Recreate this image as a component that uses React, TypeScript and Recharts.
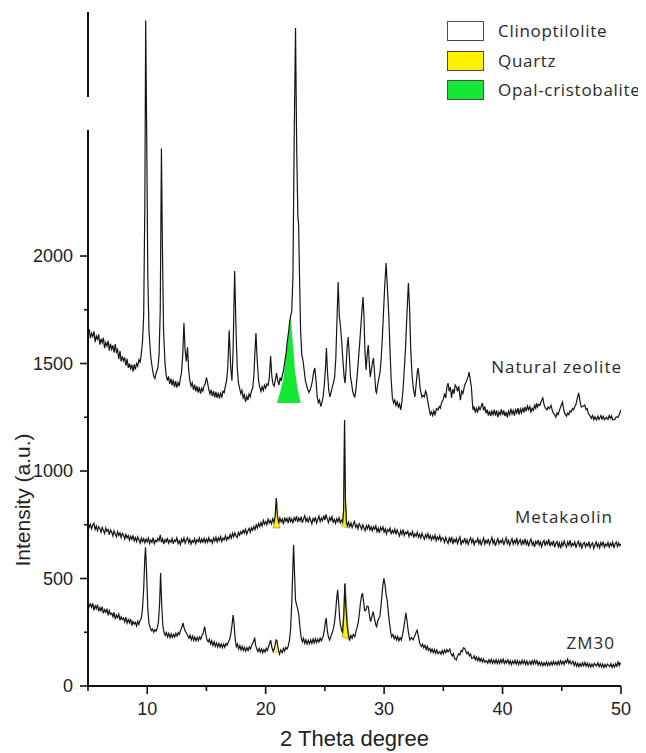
import React from 'react';
import { ComposedChart, Line, Area, XAxis, YAxis, ReferenceLine, ReferenceDot } from 'recharts';

// ---- axes ----
const X_DOMAIN: [number, number] = [5, 50];
const X_TICKS = [5, 10, 15, 20, 25, 30, 35, 40, 45, 50];
const X_LABELED = [10, 20, 30, 40, 50];
const Y_DOMAIN: [number, number] = [0, 3135];
const Y_TICKS = [0, 250, 500, 750, 1000, 1250, 1500, 1750, 2000];
const Y_LABELED = [0, 500, 1000, 1500, 2000];
const Y_BREAK = [2586, 2740];
const X_TITLE = '2 Theta degree';
const Y_TITLE = 'Intensity (a.u.)';

// ---- legend ----
const PHASES = ['Clinoptilolite', 'Quartz', 'Opal-cristobalite'];
const PHASE_COLORS = ['#ffffff', '#fff200', '#14e834'];

// ---- sample names ----
const SAMPLES = ['Natural zeolite', 'Metakaolin', 'ZM30'];

// ---- Natural zeolite [2theta, intensity] ----
const NATURAL_ZEOLITE: [number, number][] = [
  [5.0,1632],[5.1,1660],[5.2,1618],[5.3,1641],[5.4,1626],[5.5,1650],[5.6,1600],[5.7,1628],[5.8,1612],[5.9,1636],
  [6.0,1588],[6.1,1615],[6.2,1596],[6.3,1620],[6.4,1572],[6.5,1598],[6.6,1582],[6.7,1605],[6.8,1560],[6.9,1592],
  [7.0,1566],[7.1,1584],[7.2,1550],[7.3,1590],[7.4,1552],[7.5,1565],[7.6,1520],[7.7,1558],[7.8,1510],[7.9,1533],
  [8.0,1512],[8.1,1528],[8.2,1490],[8.3,1522],[8.4,1480],[8.5,1500],[8.6,1476],[8.7,1495],[8.8,1462],[8.9,1496],
  [9.0,1472],[9.1,1500],[9.2,1488],[9.3,1518],[9.4,1506],[9.5,1545],[9.6,1600],[9.7,1720],[9.8,2250],[9.87,3095],
  [9.95,2600],[10.05,1900],[10.15,1650],[10.3,1530],[10.45,1470],[10.55,1440],[10.65,1430],[10.75,1455],[10.9,1480],
  [11.0,1540],[11.1,1750],[11.2,2500],[11.28,2050],[11.38,1650],[11.5,1500],[11.6,1445],[11.7,1420],[11.8,1440],
  [11.9,1405],[12.0,1430],[12.1,1398],[12.2,1425],[12.3,1390],[12.4,1418],[12.5,1388],[12.6,1412],[12.7,1395],
  [12.8,1430],[12.9,1460],[13.0,1540],[13.1,1688],[13.2,1560],[13.3,1510],[13.4,1575],[13.5,1470],[13.6,1420],
  [13.7,1395],[13.8,1410],[13.9,1378],[14.0,1402],[14.1,1370],[14.2,1395],[14.3,1365],[14.4,1390],[14.5,1360],
  [14.6,1385],[14.7,1372],[14.8,1398],[14.9,1405],[15.0,1435],[15.1,1410],[15.2,1378],[15.3,1358],[15.4,1378],
  [15.5,1348],[15.6,1372],[15.7,1342],[15.8,1368],[15.9,1340],[16.0,1365],[16.1,1338],[16.2,1362],[16.3,1345],
  [16.4,1372],[16.5,1365],[16.6,1395],[16.7,1420],[16.8,1480],[16.92,1655],[17.05,1480],[17.15,1420],[17.25,1560],
  [17.38,1930],[17.5,1650],[17.6,1480],[17.7,1410],[17.8,1385],[17.9,1360],[18.0,1375],[18.1,1340],[18.2,1355],
  [18.3,1322],[18.4,1348],[18.5,1330],[18.6,1358],[18.7,1345],[18.8,1372],[18.9,1385],[19.0,1440],[19.1,1560],
  [19.18,1642],[19.28,1520],[19.4,1420],[19.5,1390],[19.6,1370],[19.7,1392],[19.8,1375],[19.9,1400],[20.0,1385],
  [20.1,1405],[20.2,1398],[20.3,1430],[20.42,1535],[20.52,1440],[20.62,1405],[20.72,1395],[20.82,1425],[20.92,1455],
  [21.02,1420],[21.12,1400],[21.22,1435],[21.32,1418],[21.42,1448],[21.52,1470],[21.62,1510],[21.72,1545],
  [21.82,1600],[21.92,1640],[22.02,1690],[22.12,1725],[22.2,1740],[22.3,1900],[22.42,2600],[22.52,3060],
  [22.62,2500],[22.72,2180],[22.78,2150],[22.86,1900],[22.95,1650],[23.05,1540],[23.15,1515],[23.25,1470],
  [23.35,1420],[23.45,1400],[23.55,1380],[23.65,1365],[23.75,1375],[23.85,1395],[23.95,1420],[24.05,1460],
  [24.15,1480],[24.25,1420],[24.35,1345],[24.45,1318],[24.55,1330],[24.65,1300],[24.75,1318],[24.85,1345],
  [24.95,1400],[25.05,1480],[25.13,1572],[25.22,1460],[25.32,1380],[25.42,1345],[25.52,1365],[25.62,1390],
  [25.72,1410],[25.82,1437],[25.92,1520],[26.02,1700],[26.12,1879],[26.22,1720],[26.32,1670],[26.42,1600],
  [26.52,1516],[26.62,1440],[26.7,1409],[26.78,1470],[26.88,1580],[26.97,1623],[27.06,1540],[27.16,1440],
  [27.25,1409],[27.35,1370],[27.45,1350],[27.53,1344],[27.62,1380],[27.72,1440],[27.82,1510],[27.92,1580],
  [28.02,1660],[28.12,1740],[28.22,1809],[28.3,1720],[28.38,1560],[28.48,1470],[28.57,1540],[28.66,1586],
  [28.75,1500],[28.83,1437],[28.92,1470],[29.0,1500],[29.1,1525],[29.2,1450],[29.3,1370],[29.36,1363],
  [29.45,1400],[29.55,1430],[29.65,1456],[29.75,1520],[29.85,1620],[29.95,1740],[30.05,1860],[30.17,1967],
  [30.28,1850],[30.4,1716],[30.5,1560],[30.6,1420],[30.7,1340],[30.8,1316],[30.9,1330],[31.0,1305],[31.1,1322],
  [31.2,1298],[31.3,1312],[31.4,1284],[31.5,1320],[31.6,1380],[31.7,1470],[31.8,1563],[31.92,1720],[32.05,1874],
  [32.15,1760],[32.25,1560],[32.37,1437],[32.48,1380],[32.6,1344],[32.7,1400],[32.8,1460],[32.87,1479],
  [32.95,1440],[33.05,1380],[33.2,1344],[33.3,1352],[33.4,1345],[33.5,1372],[33.57,1363],[33.7,1320],[33.8,1290],
  [33.9,1262],[34.0,1275],[34.1,1258],[34.2,1280],[34.3,1262],[34.42,1290],[34.55,1284],[34.65,1300],[34.75,1292],
  [34.85,1318],[34.98,1330],[35.1,1360],[35.2,1340],[35.3,1390],[35.4,1409],[35.5,1370],[35.6,1390],[35.69,1340],
  [35.8,1380],[35.9,1360],[36.0,1400],[36.1,1391],[36.2,1370],[36.3,1395],[36.44,1330],[36.55,1372],[36.65,1360],
  [36.8,1400],[36.9,1410],[37.0,1425],[37.1,1440],[37.18,1460],[37.28,1420],[37.37,1391],[37.45,1320],[37.51,1284],
  [37.6,1300],[37.7,1272],[37.8,1292],[37.9,1275],[38.0,1298],[38.1,1285],[38.2,1300],[38.3,1316],[38.4,1282],
  [38.5,1300],[38.6,1268],[38.7,1286],[38.8,1258],[38.9,1280],[39.0,1255],[39.1,1278],[39.2,1262],[39.3,1285],
  [39.4,1258],[39.5,1282],[39.6,1250],[39.7,1275],[39.8,1262],[39.9,1288],[40.0,1260],[40.1,1282],[40.2,1255],
  [40.3,1275],[40.4,1250],[40.5,1278],[40.6,1262],[40.7,1290],[40.8,1265],[40.9,1282],[41.0,1258],[41.1,1285],
  [41.2,1270],[41.3,1292],[41.4,1262],[41.5,1288],[41.6,1270],[41.7,1295],[41.8,1272],[41.9,1298],[42.0,1278],
  [42.1,1302],[42.2,1285],[42.3,1300],[42.4,1275],[42.5,1292],[42.6,1282],[42.7,1305],[42.8,1292],[42.86,1315],
  [42.95,1298],[43.05,1310],[43.15,1305],[43.25,1322],[43.4,1340],[43.5,1310],[43.6,1295],[43.76,1285],[43.85,1298],
  [43.95,1290],[44.1,1305],[44.2,1280],[44.3,1268],[44.4,1262],[44.5,1251],[44.6,1270],[44.7,1262],[44.8,1282],
  [44.9,1298],[45.06,1321],[45.15,1290],[45.25,1268],[45.4,1255],[45.5,1270],[45.6,1262],[45.7,1280],[45.8,1275],
  [45.9,1290],[46.0,1285],[46.1,1300],[46.2,1310],[46.3,1335],[46.43,1363],[46.55,1320],[46.65,1298],[46.78,1300],
  [46.94,1307],[47.05,1285],[47.15,1290],[47.25,1265],[47.36,1260],[47.5,1245],[47.6,1258],[47.7,1238],[47.8,1252],
  [47.93,1237],[48.05,1255],[48.15,1240],[48.3,1258],[48.4,1242],[48.5,1255],[48.6,1238],[48.77,1250],[48.9,1240],
  [49.0,1258],[49.1,1245],[49.2,1256],[49.3,1238],[49.47,1240],[49.6,1252],[49.75,1250],[49.85,1262],[50.0,1284],
];

// ---- Metakaolin ----
const METAKAOLIN: [number, number][] = [
  [5.0,760],[5.1,738],[5.2,752],[5.3,731],[5.4,749],[5.5,757],[5.6,728],[5.7,744],[5.8,722],[5.9,741],
  [6.0,733],[6.1,715],[6.2,738],[6.3,724],[6.4,710],[6.5,735],[6.6,719],[6.7,728],[6.8,703],[6.9,725],
  [7.0,716],[7.1,698],[7.2,722],[7.3,707],[7.4,694],[7.5,718],[7.6,700],[7.7,712],[7.8,690],[7.9,710],
  [8.0,702],[8.1,684],[8.2,705],[8.3,689],[8.4,700],[8.5,678],[8.6,696],[8.7,682],[8.8,701],[8.9,676],
  [9.0,690],[9.1,672],[9.2,694],[9.3,679],[9.4,664],[9.5,688],[9.6,671],[9.7,685],[9.8,666],[9.9,684],
  [10.0,670],[10.1,688],[10.2,663],[10.3,680],[10.4,668],[10.5,690],[10.6,662],[10.7,678],[10.8,671],[10.9,686],
  [11.0,676],[11.1,703],[11.2,668],[11.3,684],[11.4,660],[11.5,681],[11.6,670],[11.7,689],[11.8,664],[11.9,678],
  [12.0,669],[12.1,686],[12.2,661],[12.3,680],[12.4,672],[12.5,689],[12.6,663],[12.7,676],[12.8,658],[12.9,683],
  [13.0,671],[13.1,688],[13.2,664],[13.3,679],[13.4,690],[13.5,666],[13.6,682],[13.7,660],[13.8,677],[13.9,668],
  [14.0,685],[14.1,662],[14.2,680],[14.3,671],[14.4,689],[14.5,664],[14.6,683],[14.7,670],[14.8,687],[14.9,666],
  [15.0,684],[15.1,669],[15.2,690],[15.3,672],[15.4,681],[15.5,665],[15.6,688],[15.7,674],[15.8,692],[15.9,670],
  [16.0,689],[16.1,676],[16.2,695],[16.3,672],[16.4,688],[16.5,680],[16.6,699],[16.7,678],[16.8,693],[16.9,684],
  [17.0,704],[17.1,688],[17.2,710],[17.3,694],[17.4,712],[17.5,698],[17.6,690],[17.7,714],[17.8,701],[17.9,718],
  [18.0,708],[18.1,725],[18.2,712],[18.3,729],[18.4,706],[18.5,722],[18.6,733],[18.7,715],[18.8,736],[18.9,724],
  [19.0,742],[19.1,728],[19.2,750],[19.3,735],[19.4,756],[19.5,741],[19.6,760],[19.7,744],[19.8,770],[19.9,752],
  [20.0,765],[20.1,750],[20.2,776],[20.3,758],[20.4,770],[20.5,754],[20.6,778],[20.7,762],[20.8,790],[20.9,874],
  [20.98,800],[21.1,756],[21.2,781],[21.3,764],[21.4,776],[21.5,752],[21.6,784],[21.7,767],[21.8,779],[21.9,758],
  [22.0,786],[22.1,765],[22.2,778],[22.3,757],[22.4,783],[22.5,770],[22.6,790],[22.7,762],[22.8,781],[22.9,768],
  [23.0,788],[23.1,759],[23.2,777],[23.3,792],[23.4,766],[23.5,780],[23.6,760],[23.7,785],[23.8,771],[23.9,754],
  [24.0,779],[24.1,767],[24.2,786],[24.3,758],[24.4,775],[24.5,790],[24.6,764],[24.7,781],[24.8,769],[24.9,793],
  [25.0,772],[25.1,798],[25.2,776],[25.3,760],[25.4,784],[25.5,770],[25.6,788],[25.7,762],[25.8,775],[25.9,757],
  [26.0,778],[26.1,764],[26.2,782],[26.3,759],[26.4,772],[26.5,762],[26.58,815],[26.66,1237],[26.74,860],
  [26.82,758],[26.9,746],
  [27.0,762],[27.1,741],[27.2,758],[27.3,736],[27.4,752],[27.5,765],[27.6,738],[27.7,750],[27.8,731],[27.9,755],
  [28.0,744],[28.1,728],[28.2,750],[28.3,735],[28.4,722],[28.5,746],[28.6,731],[28.7,752],[28.8,726],[28.9,740],
  [29.0,722],[29.1,741],[29.2,729],[29.3,745],[29.4,718],[29.5,734],[29.6,712],[29.7,738],[29.8,725],[29.9,740],
  [30.0,716],[30.1,731],[30.2,708],[30.3,727],[30.4,719],[30.5,735],[30.6,706],[30.7,724],[30.8,712],[30.9,730],
  [31.0,705],[31.1,726],[31.2,711],[31.3,698],[31.4,722],[31.5,706],[31.6,728],[31.7,700],[31.8,716],[31.9,708],
  [32.0,720],[32.1,695],[32.2,712],[32.3,701],[32.4,718],[32.5,690],[32.6,708],[32.7,697],[32.8,715],[32.9,692],
  [33.0,706],[33.1,688],[33.2,711],[33.3,694],[33.4,683],[33.5,705],[33.6,690],[33.7,709],[33.8,686],[33.9,700],
  [34.0,680],[34.1,697],[34.2,684],[34.3,702],[34.4,676],[34.5,693],[34.6,681],[34.7,699],[34.8,674],[34.9,690],
  [35.0,685],[35.1,668],[35.2,691],[35.3,676],[35.4,663],[35.5,688],[35.6,672],[35.7,694],[35.8,660],[35.9,682],
  [36.0,670],[36.1,686],[36.2,662],[36.3,680],[36.4,693],[36.5,655],[36.6,677],[36.7,668],[36.8,688],[36.9,664],
  [37.0,681],[37.1,659],[37.2,676],[37.3,690],[37.4,666],[37.5,683],[37.6,657],[37.7,675],[37.8,669],[37.9,687],
  [38.0,662],[38.1,679],[38.2,654],[38.3,673],[38.4,688],[38.5,660],[38.6,677],[38.7,665],[38.8,684],[38.9,658],
  [39.0,674],[39.1,691],[39.2,663],[39.3,679],[39.4,652],[39.5,671],[39.6,686],[39.7,661],[39.8,676],[39.9,667],
  [40.0,683],[40.1,656],[40.2,674],[40.3,690],[40.4,663],[40.5,678],[40.6,655],[40.7,672],[40.8,686],[40.9,660],
  [41.0,677],[41.1,664],[41.2,689],[41.3,658],[41.4,673],[41.5,681],[41.6,654],[41.7,676],[41.8,662],[41.9,685],
  [42.0,659],[42.1,675],[42.2,650],[42.3,671],[42.4,684],[42.5,657],[42.6,669],[42.7,646],[42.8,673],[42.9,661],
  [43.0,680],[43.1,655],[43.2,670],[43.3,648],[43.4,667],[43.5,677],[43.6,652],[43.7,672],[43.8,660],[43.9,683],
  [44.0,650],[44.1,668],[44.2,657],[44.3,676],[44.4,645],[44.5,664],[44.6,672],[44.7,648],[44.8,666],[44.9,640],
  [45.0,668],[45.1,652],[45.2,675],[45.3,658],[45.4,646],[45.5,670],[45.6,655],[45.7,678],[45.8,649],[45.9,663],
  [46.0,654],[46.1,670],[46.2,643],[46.3,661],[46.4,673],[46.5,650],[46.6,665],[46.7,641],[46.8,660],[46.9,668],
  [47.0,647],[47.1,663],[47.2,652],[47.3,671],[47.4,644],[47.5,659],[47.6,666],[47.7,640],[47.8,657],[47.9,670],
  [48.0,648],[48.1,662],[48.2,643],[48.3,667],[48.4,653],[48.5,672],[48.6,645],[48.7,660],[48.8,651],[48.9,668],
  [49.0,646],[49.1,664],[49.2,652],[49.3,669],[49.4,642],[49.5,661],[49.6,670],[49.7,648],[49.8,665],[49.9,652],
  [50.0,660],
];

// ---- ZM30 ----
const ZM30: [number, number][] = [
  [5.0,392],[5.1,370],[5.2,381],[5.3,366],[5.4,385],[5.5,352],[5.6,374],[5.7,360],[5.8,378],[5.9,347],[6.0,365],
  [6.1,350],[6.2,369],[6.3,338],[6.4,355],[6.5,343],[6.6,360],[6.7,328],[6.8,351],[6.9,334],[7.0,338],[7.1,322],
  [7.2,343],[7.3,311],[7.4,330],[7.5,318],[7.6,334],[7.7,305],[7.8,322],[7.9,309],[8.0,316],[8.1,298],[8.2,320],
  [8.3,292],[8.4,309],[8.5,294],[8.6,312],[8.7,281],[8.8,300],[8.9,288],[9.0,296],[9.1,279],[9.2,301],[9.3,286],
  [9.4,305],[9.5,315],[9.6,360],[9.7,450],[9.8,600],[9.86,645],[9.95,520],[10.05,360],[10.15,290],[10.25,272],
  [10.35,258],[10.45,265],[10.55,250],[10.65,262],[10.75,255],[10.85,270],[10.95,300],[11.05,390],[11.13,525],
  [11.22,380],[11.32,280],[11.42,250],[11.52,235],[11.62,248],[11.72,228],[11.82,245],[11.92,225],[12.02,242],
  [12.12,226],[12.22,240],[12.32,228],[12.42,245],[12.52,232],[12.62,248],[12.72,240],[12.82,260],[12.92,272],
  [13.02,293],[13.12,270],[13.22,255],[13.32,245],[13.42,235],[13.52,222],[13.62,236],[13.72,215],[13.82,232],
  [13.92,212],[14.02,228],[14.12,210],[14.22,226],[14.32,212],[14.42,228],[14.52,218],[14.62,235],[14.72,245],
  [14.85,276],[14.95,240],[15.05,215],[15.15,205],[15.25,218],[15.35,195],[15.45,210],[15.55,188],[15.65,205],
  [15.75,185],[15.85,200],[15.95,182],[16.05,198],[16.15,180],[16.25,196],[16.35,178],[16.45,195],[16.55,180],
  [16.65,198],[16.75,190],[16.85,205],[16.95,215],[17.05,240],[17.15,280],[17.25,330],[17.33,290],[17.42,220],
  [17.52,183],[17.62,195],[17.72,172],[17.82,188],[17.92,168],[18.02,185],[18.12,165],[18.22,180],[18.32,162],
  [18.42,178],[18.52,165],[18.62,182],[18.72,172],[18.82,190],[18.92,200],[19.02,215],[19.07,225],[19.15,190],
  [19.25,172],[19.35,160],[19.45,175],[19.55,158],[19.65,172],[19.75,155],[19.85,170],[19.95,158],[20.05,175],
  [20.15,165],[20.25,185],[20.35,200],[20.42,214],[20.52,180],[20.64,160],[20.75,178],[20.88,214],[20.95,212],
  [21.05,175],[21.17,148],[21.28,168],[21.4,155],[21.5,175],[21.6,162],[21.7,180],[21.8,172],[21.9,185],[22.0,210],
  [22.1,260],[22.2,380],[22.3,560],[22.36,656],[22.44,520],[22.52,400],[22.6,380],[22.7,360],[22.8,330],[22.9,270],
  [23.0,225],[23.1,205],[23.2,222],[23.3,198],[23.4,215],[23.5,195],[23.6,212],[23.7,196],[23.8,215],[23.9,198],
  [24.0,218],[24.1,200],[24.2,220],[24.3,202],[24.4,218],[24.5,205],[24.6,222],[24.7,210],[24.85,230],[24.95,260],
  [25.05,300],[25.11,316],[25.2,260],[25.3,228],[25.4,214],[25.5,230],[25.6,245],[25.7,262],[25.8,290],[25.9,340],
  [26.0,410],[26.08,446],[26.17,380],[26.27,300],[26.4,260],[26.5,250],[26.6,330],[26.68,477],[26.76,380],
  [26.88,280],[27.0,230],[27.1,214],[27.2,235],[27.3,222],[27.4,240],[27.53,229],[27.65,260],[27.75,280],
  [27.81,293],[27.9,330],[28.0,385],[28.1,420],[28.18,432],[28.27,390],[28.36,350],[28.46,353],[28.56,372],
  [28.66,369],[28.76,330],[28.86,299],[28.96,320],[29.08,346],[29.2,310],[29.3,285],[29.37,276],[29.45,300],
  [29.55,315],[29.64,322],[29.75,380],[29.88,460],[29.98,501],[30.08,470],[30.18,420],[30.26,400],[30.36,340],
  [30.46,290],[30.56,250],[30.63,229],[30.75,240],[30.85,220],[30.95,232],[31.05,214],[31.15,230],[31.25,210],
  [31.35,225],[31.46,214],[31.56,240],[31.66,270],[31.76,310],[31.84,340],[31.94,300],[32.05,250],[32.17,214],
  [32.3,225],[32.45,215],[32.6,235],[32.7,250],[32.79,260],[32.9,230],[33.0,200],[33.15,183],[33.25,195],
  [33.35,178],[33.45,190],[33.55,170],[33.65,185],[33.75,165],[33.86,175],[33.95,158],[34.05,172],[34.15,155],
  [34.25,170],[34.35,152],[34.45,168],[34.55,150],[34.7,160],[34.8,148],[34.9,165],[35.0,150],[35.1,168],
  [35.2,155],[35.3,170],[35.4,158],[35.55,172],[35.65,150],[35.75,140],[35.85,150],[35.95,128],[36.1,121],
  [36.2,140],[36.3,150],[36.4,145],[36.5,165],[36.6,160],[36.7,178],[36.81,175],[36.9,160],[37.0,150],[37.1,158],
  [37.2,140],[37.3,148],[37.4,128],[37.51,130],[37.6,140],[37.7,122],[37.8,135],[37.9,118],[38.0,132],[38.1,115],
  [38.2,128],[38.3,112],[38.4,126],[38.5,110],[38.64,118],[38.75,106],[38.85,122],[38.95,108],[39.05,124],
  [39.15,105],[39.25,120],[39.35,106],[39.45,122],[39.55,104],[39.65,120],[39.75,105],[39.85,123],[39.95,108],
  [40.05,125],[40.15,104],[40.25,118],[40.33,107],[40.45,122],[40.55,102],[40.65,118],[40.75,100],[40.85,116],
  [40.95,104],[41.05,120],[41.15,102],[41.25,118],[41.35,100],[41.45,115],[41.55,102],[41.65,120],[41.75,104],
  [41.85,118],[41.95,100],[42.05,116],[42.15,98],[42.3,115],[42.4,100],[42.5,118],[42.6,102],[42.7,120],[42.8,104],
  [42.9,118],[43.0,98],[43.1,112],[43.2,96],[43.3,110],[43.4,94],[43.5,108],[43.6,96],[43.7,112],[43.8,95],
  [43.9,110],[44.0,96],[44.1,112],[44.2,98],[44.3,115],[44.4,100],[44.5,112],[44.6,98],[44.7,115],[44.8,100],
  [44.9,118],[45.0,102],[45.1,115],[45.2,100],[45.3,118],[45.4,108],[45.5,125],[45.6,105],[45.7,118],[45.8,102],
  [45.95,115],[46.05,95],[46.15,110],[46.25,92],[46.35,106],[46.45,90],[46.55,104],[46.65,92],[46.75,108],
  [46.85,94],[46.95,110],[47.05,92],[47.15,106],[47.25,90],[47.35,104],[47.45,88],[47.55,102],[47.65,90],
  [47.75,105],[47.93,93],[48.05,108],[48.15,90],[48.25,104],[48.35,88],[48.45,102],[48.55,86],[48.65,100],
  [48.75,88],[48.85,102],[49.05,90],[49.15,104],[49.25,86],[49.35,100],[49.45,88],[49.55,104],[49.65,92],
  [49.75,112],[49.85,95],[49.9,107],[50.0,100],
];

// ---- phase fills [2theta, low, high] ----
const OPAL_NZ: [number, number, number][] = [
  [20.95,1316,1316],[21.2,1316,1363],[21.48,1316,1423],[21.71,1316,1532],[21.9,1316,1625],[22.13,1316,1718],
  [22.25,1316,1620],[22.47,1316,1470],[22.7,1316,1380],[22.95,1316,1316],
];
const QUARTZ_MK_1: [number, number, number][] = [
  [20.66,735,735],[20.8,735,790],[20.9,735,874],[21.0,735,790],[21.2,735,735],
];
const QUARTZ_MK_2: [number, number, number][] = [
  [26.43,745,745],[26.58,742,815],[26.66,740,1229],[26.74,738,860],[26.85,737,770],[27.0,735,735],
];
const QUARTZ_ZM_1: [number, number, number][] = [
  [20.82,150,150],[20.9,148,205],[20.98,150,150],
];
const QUARTZ_ZM_2: [number, number, number][] = [
  [26.45,229,229],[26.6,227,360],[26.68,226,450],[26.73,225,477],[26.85,221,360],[27.0,216,250],[27.1,214,214],
];

const toPts = (a: [number, number][]) => a.map(([x, y]) => ({ x, y }));
const toRange = (a: [number, number, number][]) => a.map(([x, lo, hi]) => ({ x, r: [lo, hi] }));

const FONT = '"Liberation Sans", Arial, sans-serif';
const LFONT = '"Open Sans", sans-serif';
const AXIS = '#111';
const TRACE = '#151515';

const YTick = (props: any) => {
  const { x, y, payload } = props;
  const v = payload.value;
  const major = Y_LABELED.includes(v);
  return (
    <g>
      <line x1={x - (major ? 8 : 4)} x2={x} y1={y} y2={y} stroke={AXIS} strokeWidth={1.6} />
      {major && (
        <text x={x - 15} y={y} dy="0.36em" textAnchor="end" fontSize={18} fill="#222" fontFamily={FONT}>
          {v}
        </text>
      )}
    </g>
  );
};

const XTick = (props: any) => {
  const { x, y, payload } = props;
  const v = payload.value;
  const major = X_LABELED.includes(v);
  return (
    <g>
      <line x1={x} x2={x} y1={y} y2={y + (major ? 8 : 5)} stroke={AXIS} strokeWidth={1.6} />
      {major && (
        <text x={x} y={y + 29} textAnchor="middle" fontSize={18} fill="#222" fontFamily={FONT}>
          {v}
        </text>
      )}
    </g>
  );
};

const sampleLabel = (text: string, dx: number) => (p: any) => {
  const vb = p.viewBox || {};
  return (
    <text x={vb.x + dx} y={vb.y} textAnchor="end" fontSize={17} letterSpacing={1} fill="#2a2a2a" fontFamily={LFONT}>
      {text}
    </text>
  );
};

const LegendBox = () => (
  <div style={{ position: 'absolute', top: 13, left: 439, fontFamily: LFONT, whiteSpace: 'nowrap' }}>
    {PHASES.map((p, i) => (
      <div key={p} style={{ display: 'flex', alignItems: 'center', height: 29.5 }}>
        <div
          style={{
            width: 35,
            height: 18,
            background: PHASE_COLORS[i],
            border: '1.5px solid #4a4a4a',
            marginTop: -9,
            flex: 'none',
          }}
        />
        <span style={{ marginLeft: 14, fontSize: 17, letterSpacing: 0.7, color: '#2a2a2a', marginTop: -9, lineHeight: '20px' }}>
          {p}
        </span>
      </div>
    ))}
  </div>
);

export default function App() {
  return (
    <div style={{ position: 'relative', width: 630, height: 745, fontFamily: FONT }}>
      <ComposedChart width={630} height={745} margin={{ top: 4, right: 17, left: 0, bottom: 0 }}>
        <XAxis
          dataKey="x"
          type="number"
          domain={X_DOMAIN}
          ticks={X_TICKS}
          interval={0}
          allowDataOverflow
          height={67}
          tickSize={0}
          tickMargin={0}
          tickLine={false}
          axisLine={{ stroke: AXIS, strokeWidth: 2 }}
          tick={<XTick />}
          label={(p: any) => {
            const vb = p.viewBox;
            return (
              <text x={vb.x + vb.width / 2} y={vb.y + 60} textAnchor="middle" fontSize={22} fill="#222" fontFamily={FONT}>
                {X_TITLE}
              </text>
            );
          }}
        />
        <YAxis
          type="number"
          domain={Y_DOMAIN}
          ticks={Y_TICKS}
          interval={0}
          allowDataOverflow
          width={80}
          tickSize={0}
          tickMargin={0}
          tickLine={false}
          axisLine={false}
          tick={<YTick />}
          label={(p: any) => {
            const vb = p.viewBox;
            const cx = 14;
            const cy = vb.y + vb.height * 0.724;
            return (
              <text x={cx} y={cy} transform={`rotate(-90 ${cx} ${cy})`} dy="0.36em" textAnchor="middle" fontSize={21} fill="#222" fontFamily={FONT}>
                {Y_TITLE}
              </text>
            );
          }}
        />

        <Area data={toRange(OPAL_NZ)} dataKey="r" type="linear" fill={PHASE_COLORS[2]} fillOpacity={1} stroke="none" isAnimationActive={false} legendType="none" />
        <Area data={toRange(QUARTZ_MK_1)} dataKey="r" type="linear" fill={PHASE_COLORS[1]} fillOpacity={1} stroke="#555" strokeWidth={0.5} isAnimationActive={false} legendType="none" />
        <Area data={toRange(QUARTZ_MK_2)} dataKey="r" type="linear" fill={PHASE_COLORS[1]} fillOpacity={1} stroke="#555" strokeWidth={0.5} isAnimationActive={false} legendType="none" />
        <Area data={toRange(QUARTZ_ZM_1)} dataKey="r" type="linear" fill={PHASE_COLORS[1]} fillOpacity={1} stroke="none" isAnimationActive={false} legendType="none" />
        <Area data={toRange(QUARTZ_ZM_2)} dataKey="r" type="linear" fill={PHASE_COLORS[1]} fillOpacity={1} stroke="#555" strokeWidth={0.5} isAnimationActive={false} legendType="none" />

        <Line data={toPts(NATURAL_ZEOLITE)} dataKey="y" name={SAMPLES[0]} type="linear" dot={false} stroke={TRACE} strokeWidth={1.2} isAnimationActive={false} legendType="none" />
        <Line data={toPts(METAKAOLIN)} dataKey="y" name={SAMPLES[1]} type="linear" dot={false} stroke={TRACE} strokeWidth={1.2} isAnimationActive={false} legendType="none" />
        <Line data={toPts(ZM30)} dataKey="y" name={SAMPLES[2]} type="linear" dot={false} stroke={TRACE} strokeWidth={1.2} isAnimationActive={false} legendType="none" />

        <ReferenceLine segment={[{ x: X_DOMAIN[0], y: Y_DOMAIN[0] }, { x: X_DOMAIN[0], y: Y_BREAK[0] }]} stroke={AXIS} strokeWidth={2} />
        <ReferenceLine segment={[{ x: X_DOMAIN[0], y: Y_BREAK[1] }, { x: X_DOMAIN[0], y: Y_DOMAIN[1] }]} stroke={AXIS} strokeWidth={2} />

        <ReferenceDot x={50} y={1456} r={0} fill="none" stroke="none" label={sampleLabel(SAMPLES[0], 1)} />
        <ReferenceDot x={50} y={758} r={0} fill="none" stroke="none" label={sampleLabel(SAMPLES[1], -8)} />
        <ReferenceDot x={50} y={170} r={0} fill="none" stroke="none" label={sampleLabel(SAMPLES[2], -6)} />
      </ComposedChart>
      <LegendBox />
    </div>
  );
}
